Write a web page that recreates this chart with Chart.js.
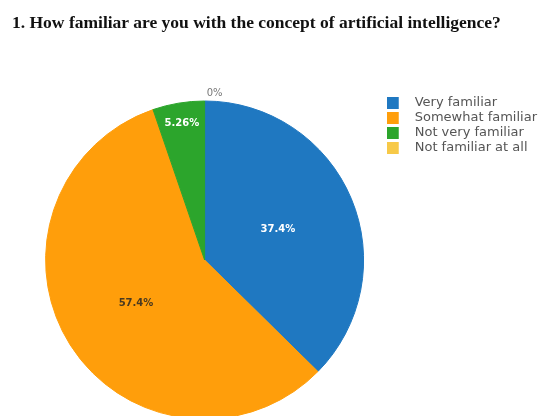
<!DOCTYPE html>
<html><head><meta charset="utf-8">
<script src="https://cdn.jsdelivr.net/npm/chart.js@4"></script>
<style>
html,body{margin:0;padding:0;background:#fff;overflow:hidden;width:542px;height:416px;}
#title{position:absolute;left:12px;top:14px;font:bold 17.5px "Liberation Serif",serif;line-height:17.5px;color:#111;white-space:nowrap;}
#wrap{position:absolute;left:0;top:0;width:552px;height:430px;}
</style></head><body>
<div id="wrap"><canvas id="c" width="552" height="430"></canvas></div>
<div id="title">1. How familiar are you with the concept of artificial intelligence?</div>
<script>
const categories = ["Very familiar", "Somewhat familiar", "Not very familiar", "Not familiar at all"];
const values = [37.4, 57.4, 5.26, 0];
const valueLabels = ["37.4%", "57.4%", "5.26%", "0%"];
const colors = ["#1f78c1", "#ff9e0b", "#2ca52c", "#f7c948"];

function makeSwatch(color) {
  const c = document.createElement('canvas');
  c.width = 21; c.height = 12;
  const g = c.getContext('2d');
  g.fillStyle = color;
  g.fillRect(0, 0, 12, 12);
  return c;
}
const swatches = colors.map(makeSwatch);

const labelFrac = [0.5, 0.51, 0.87];
const labelColors = ["#ffffff", "#4a3a20", "#ffffff", "#777777"];

const sliceLabels = {
  id: 'sliceLabels',
  afterDatasetsDraw(chart) {
    const meta = chart.getDatasetMeta(0);
    const ctx = chart.ctx;
    ctx.save();
    ctx.textAlign = 'center';
    ctx.textBaseline = 'middle';
    meta.data.forEach((arc, i) => {
      const p = arc.getProps(['x', 'y', 'startAngle', 'endAngle', 'outerRadius'], true);
      const mid = (p.startAngle + p.endAngle) / 2;
      let r, dx = 0;
      if (values[i] === 0) { r = p.outerRadius + 8; dx = 10; ctx.font = '10px "DejaVu Sans"'; }
      else { r = p.outerRadius * labelFrac[i]; ctx.font = 'bold 10px "DejaVu Sans"'; }
      ctx.fillStyle = labelColors[i];
      ctx.fillText(valueLabels[i], p.x + Math.cos(mid) * r + dx, p.y + Math.sin(mid) * r);
    });
    ctx.restore();
  }
};

new Chart(document.getElementById('c'), {
  type: 'pie',
  data: {
    labels: categories,
    datasets: [{
      data: values,
      backgroundColor: colors,
      borderColor: colors,
      borderWidth: [1, 1, 1, 0],
      radius: 159
    }]
  },
  options: {
    responsive: false,
    animation: false,
    devicePixelRatio: 1,
    layout: { padding: { left: 25, right: 5, top: 94, bottom: 4 } },
    plugins: {
      tooltip: { enabled: false },
      legend: {
        position: 'right',
        align: 'start',
        labels: {
          usePointStyle: true,
          pointStyleWidth: 22,
          padding: 2,
          color: '#555',
          font: { family: '"DejaVu Sans"', size: 13 },
          generateLabels(chart) {
            const items = Chart.overrides.pie.plugins.legend.labels.generateLabels(chart);
            items.forEach((it, i) => { it.pointStyle = swatches[i]; });
            return items;
          }
        }
      }
    }
  },
  plugins: [sliceLabels]
});
</script>
</body></html>
